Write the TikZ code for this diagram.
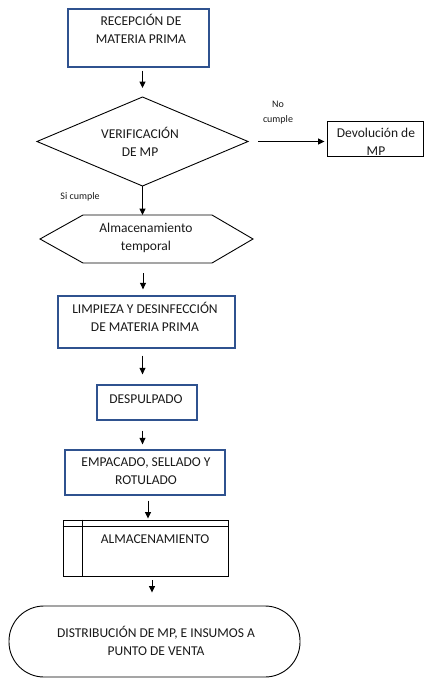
\documentclass[tikz,border=0pt]{standalone}
\usepackage{fontspec}
\setmainfont{Carlito}
\usetikzlibrary{shapes.geometric,arrows.meta}
\definecolor{wblue}{RGB}{47,82,143}
\definecolor{ink}{RGB}{25,25,25}
\begin{document}
\begin{tikzpicture}[x=1pt,y=-1pt,
  bluebox/.style={draw=wblue,line width=1.3pt,rectangle,inner sep=0pt},
  blackbox/.style={draw=black,line width=0.9pt,inner sep=0pt},
  txt/.style={font=\fontsize{13.5}{18}\selectfont,align=center,text=ink,inner sep=0pt},
  lbl/.style={font=\fontsize{10}{15}\selectfont,align=center,text=ink,inner sep=0pt},
  arr/.style={-{Triangle[length=6.5pt,width=6pt]},line width=1pt,draw=black}]
\useasboundingbox (0,0) rectangle (426,680);

% shapes
\node[bluebox,minimum width=141pt,minimum height=58pt] (recep) at (138.5,38) {};
\coordinate (vN) at (142.5,97);
\coordinate (vE) at (248,141.5);
\coordinate (vS) at (142.5,186);
\coordinate (vW) at (37,141.5);
\draw[line width=0.9pt,line join=miter] (vN) -- (vE) -- (vS) -- (vW) -- cycle;
\node[blackbox,minimum width=96pt,minimum height=35pt] (devol) at (375,138.5) {};
% hexagon (storage)
\coordinate (hexW) at (40,239);
\coordinate (hexE) at (253,239);
\coordinate (hexN) at (143,215);
\coordinate (hexS) at (143,263);
\draw[line width=0.9pt,line join=miter] (hexW) -- (83,215) -- (212,215) -- (hexE) -- (212,263) -- (83,263) -- cycle;
\node[bluebox,minimum width=177pt,minimum height=52pt] (limp) at (146.5,322) {};
\node[bluebox,minimum width=100pt,minimum height=35pt] (desp) at (147,402.5) {};
\node[bluebox,minimum width=160pt,minimum height=45pt] (empa) at (145,472.5) {};
\node[blackbox,minimum width=165pt,minimum height=56pt] (alma) at (145.5,548) {};
\draw[line width=0.9pt] (alma.north west) ++(0,7) coordinate (almaL) -- (almaL -| alma.east);
\draw[line width=0.9pt] (alma.north west) ++(20,0) coordinate (almaV) -- (almaV |- alma.south);
\node[blackbox,rounded corners=35pt,minimum width=291pt,minimum height=71pt] (dist) at (154.5,641.5) {};

% texts
\node[txt] (t1) at (141,29) {RECEPCIÓN DE\\MATERIA PRIMA};
\node[txt] (t2) at (140,141.5) {VERIFICACIÓN\\DE MP};
\node[txt] (t3) at (376,142) {Devolución de\\MP};
\node[txt] (t4) at (146,238) {Almacenamiento\\temporal};
\node[txt] (t5) at (145,317) {LIMPIEZA Y DESINFECCIÓN\\DE MATERIA PRIMA};
\node[txt] (t6) at (146,399) {DESPULPADO};
\node[txt] (t7) at (146,471) {EMPACADO, SELLADO Y\\ROTULADO};
\node[txt] (t8) at (155,539) {ALMACENAMIENTO};
\node[txt] (t9) at (156,641) {DISTRIBUCIÓN DE MP, E INSUMOS A\\PUNTO DE VENTA};
\node[lbl] (no) at (278,113) {No\\cumple};
\node[lbl] (si) at (80,197) {Si cumple};

% connectors
\draw[arr,shorten <=3pt,shorten >=9pt] (recep.south -| vN) -- (vN);
\draw[arr,shorten <=10pt,shorten >=2pt] (vE) -- (devol.west |- vE);
\draw[arr] (vS) -- (hexN -| vS);
\draw[arr,shorten <=10pt,shorten >=6pt] (hexS) -- (limp.north -| hexS);
\draw[arr,shorten <=7pt,shorten >=10pt] (limp.south -| vN) -- (desp.north -| vN);
\draw[arr,shorten <=10pt,shorten >=5pt] (desp.south -| vN) -- (empa.north -| vN);
\draw[arr,shorten <=5pt,shorten >=1pt] ([xshift=3pt]empa.south) -- ([xshift=3pt]empa.south |- alma.north);
\draw[arr,shorten <=4pt,shorten >=13pt] ([xshift=6.5pt]alma.south) -- ([xshift=6.5pt]alma.south |- dist.north);
\end{tikzpicture}
\end{document}
